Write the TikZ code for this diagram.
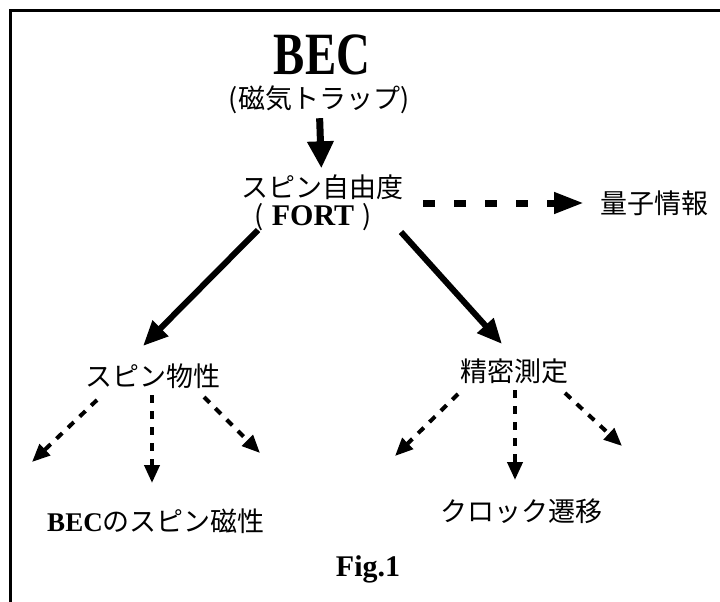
\documentclass[tikz,border=0pt]{standalone}
\usepackage{fontspec}
\setmainfont{Liberation Serif}
\newfontfamily\jp{Noto Sans CJK JP}
\usetikzlibrary{arrows.meta}
\tikzset{
  jplabel/.style={inner sep=0pt, font=\jp\fontsize{27}{27}\selectfont},
  bigarrow/.style={line width=7pt, -{Triangle[length=27pt,width=25pt]}},
  diagarrow/.style={line width=6pt, -{Triangle[length=25pt,width=21pt]}},
  bigdash/.style={line width=7pt, dash pattern=on 12pt off 19pt, -{Triangle[length=30pt,width=20pt]}},
  smalldash/.style={line width=4pt, dash pattern=on 8pt off 8pt, -{Triangle[length=18pt,width=15pt]}}
}
\begin{document}
\begin{tikzpicture}[x=1pt,y=-1pt]
\useasboundingbox (0,0) rectangle (720,602);
\fill[white] (0,0) rectangle (720,602);
% frame
\draw[line width=3pt] (10.5,602) -- (10.5,10.5) -- (720,10.5);

% texts
\node[inner sep=0pt, font=\bfseries\fontsize{60}{60}\selectfont, xscale=0.78] (bec) at (322,55) {BEC};
\node[jplabel] (mag) at (319,100) {(磁気トラップ)};
\node[jplabel] (spin) at (322,187) {スピン自由度};
\node[jplabel] (fort) at (313,217) {(\hspace{8pt}{\rmfamily\bfseries\fontsize{30}{30}\selectfont FORT}\hspace{8pt})};
\node[jplabel] (qi) at (654,203) {量子情報};
\node[jplabel] (sp) at (153,376) {スピン物性};
\node[jplabel] (prec) at (514,371) {精密測定};
\node[jplabel] (becmag) at (156,521) {{\rmfamily\bfseries\fontsize{27}{27}\selectfont BEC}のスピン磁性};
\node[jplabel] (clock) at (521,511) {クロック遷移};
\node[inner sep=0pt, font=\bfseries\fontsize{30}{30}\selectfont] (fig) at (368,569) {Fig.1};

% connectors
\draw[bigarrow, shorten <=4pt, shorten >=6pt] (mag) -- (spin);

\coordinate (t1) at (258,230); \coordinate (h1) at (143,346);
\coordinate (t2) at (401,232); \coordinate (h2) at (502,344);
\draw[diagarrow] (t1) -- (h1);
\draw[diagarrow] (t2) -- (h2);

\coordinate (t3) at (423,203); \coordinate (h3) at (584,203);
\draw[bigdash] (t3) -- (h3);

\coordinate (sa) at (97,400);  \coordinate (sah) at (32,462);
\coordinate (sb) at (152,395); \coordinate (sbh) at (152,483);
\coordinate (sc) at (204,397); \coordinate (sch) at (260,453);
\draw[smalldash] (sa) -- (sah);
\draw[smalldash] (sb) -- (sbh);
\draw[smalldash] (sc) -- (sch);

\coordinate (pa) at (458,394); \coordinate (pah) at (395,456);
\coordinate (pb) at (515,390); \coordinate (pbh) at (515,480);
\coordinate (pc) at (565,393); \coordinate (pch) at (622,446);
\draw[smalldash] (pa) -- (pah);
\draw[smalldash] (pb) -- (pbh);
\draw[smalldash] (pc) -- (pch);
\end{tikzpicture}
\end{document}
